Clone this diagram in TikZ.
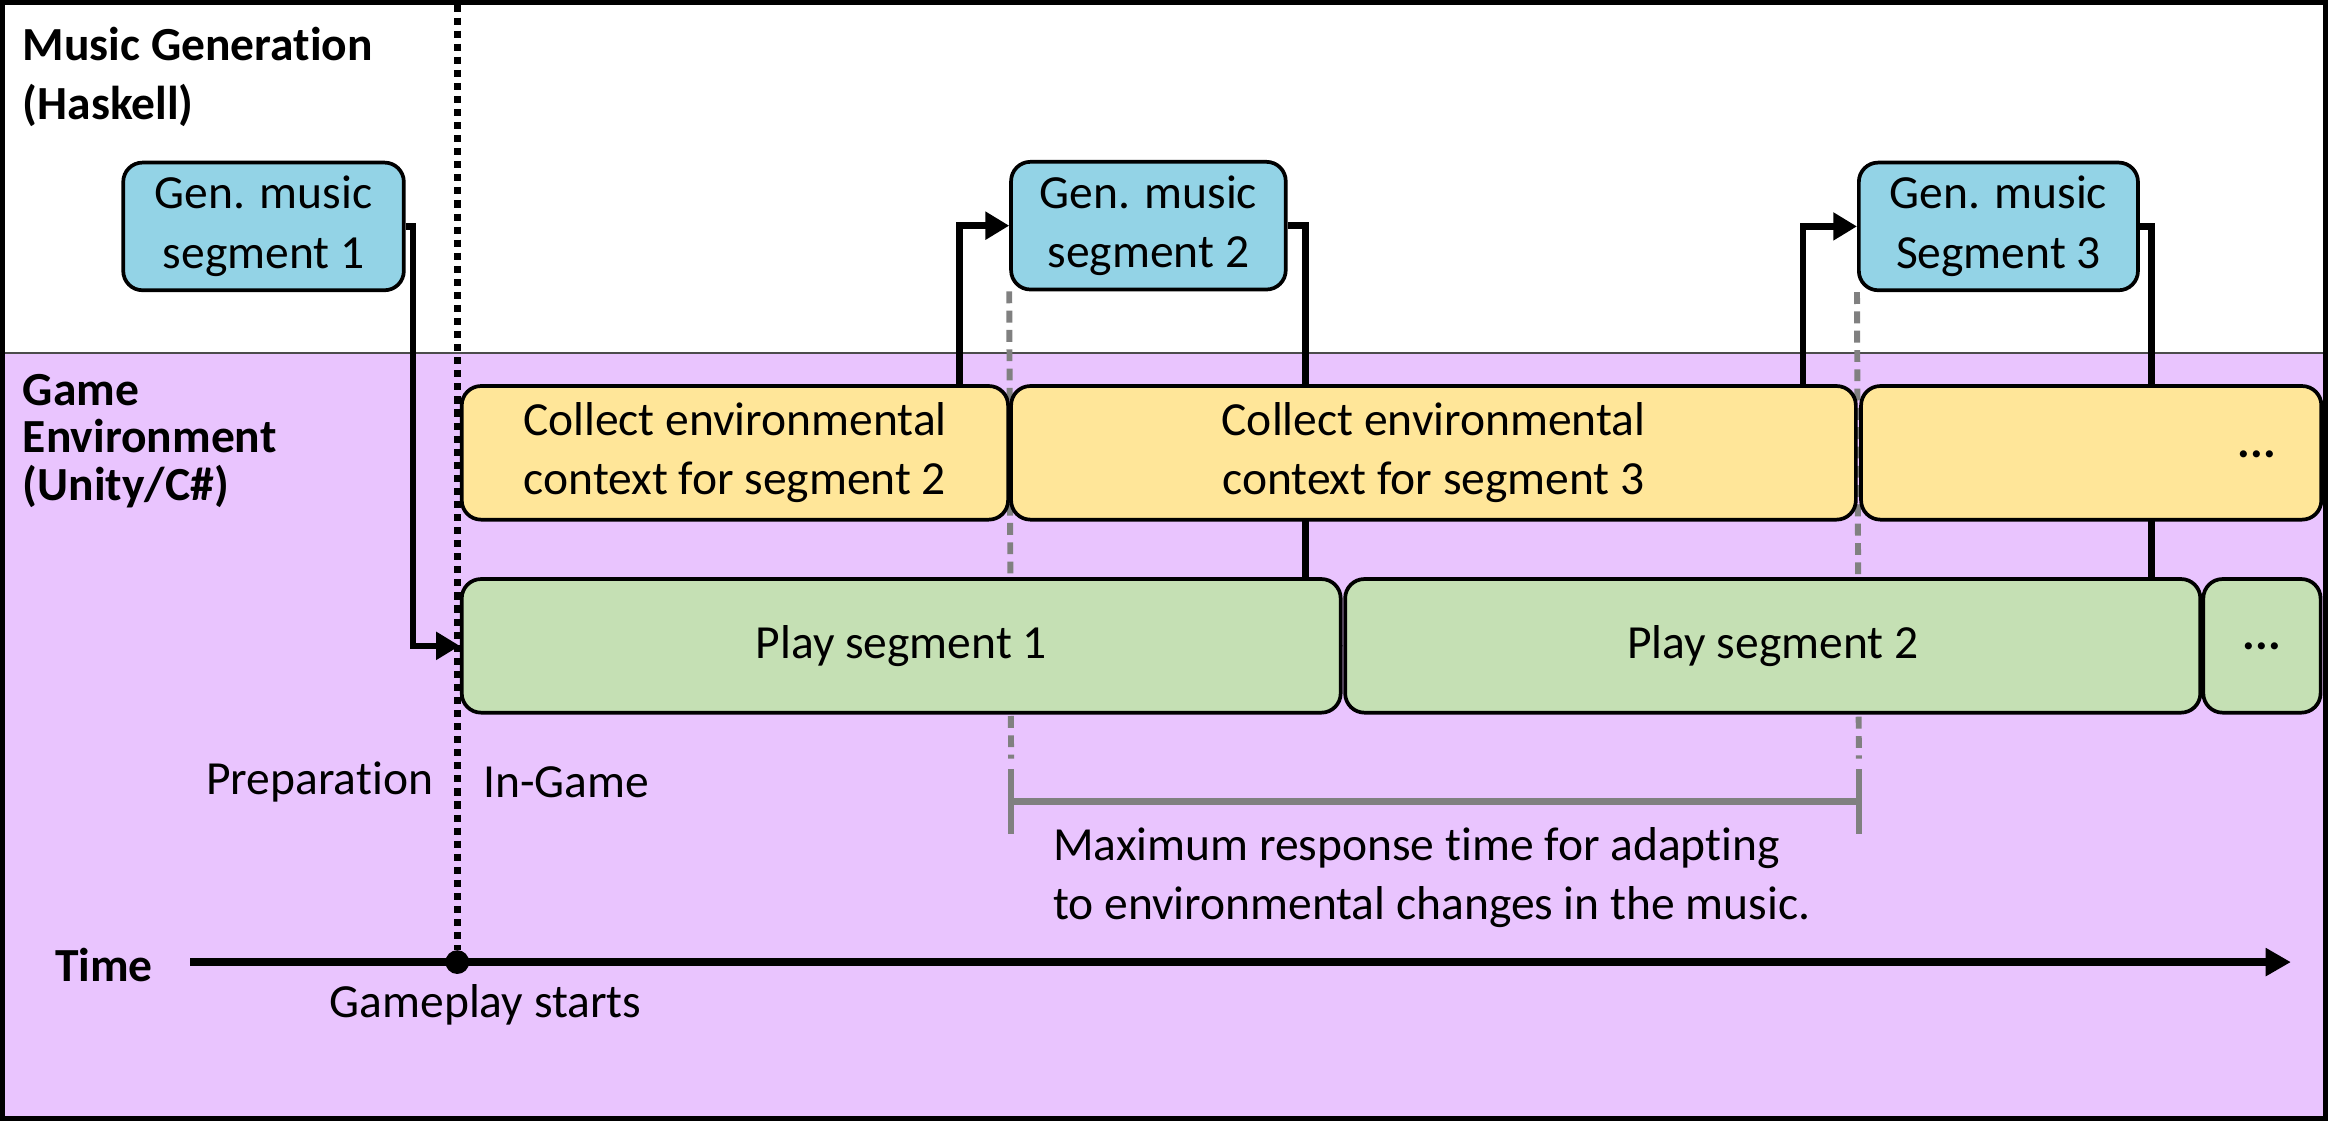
\documentclass[tikz,border=0pt]{standalone}
\usepackage{fontspec}
\setmainfont{Carlito}[Ligatures={NoCommon,NoContextual}]
\usetikzlibrary{arrows.meta}
\pgfdeclarelayer{back}
\pgfdeclarelayer{mid}
\pgfsetlayers{back,mid,main}
\definecolor{genblue}{HTML}{93D3E6}
\definecolor{collyellow}{HTML}{FFE699}
\definecolor{playgreen}{HTML}{C5E0B4}
\definecolor{gamepurple}{HTML}{E9C4FE}
\definecolor{midgray}{RGB}{128,128,128}
\begin{document}
\begin{tikzpicture}[x=0.5pt,y=-0.5pt,
  every node/.style={font=\fontsize{16pt}{20pt}\selectfont, inner sep=0pt},
  box/.style={draw=black, line width=1.25pt, rounded corners=6.5pt, align=center, minimum height=44pt},
  genbox/.style={box, fill=genblue, minimum height=43pt},
  collbox/.style={box, fill=collyellow, minimum height=45pt},
  playbox/.style={box, fill=playgreen, minimum height=45pt},
  conn/.style={line width=2.2pt, line join=miter, -{Triangle[length=8pt,width=9pt]}},
  graydash/.style={draw=midgray, line width=2pt, dash pattern=on 4pt off 2.5pt},
  bracket/.style={draw=midgray, line width=2.2pt},
  blackdots/.style={draw=black, line width=2.4pt, dash pattern=on 2.4pt off 2pt},
  timeline/.style={line width=2.6pt, -{Triangle[length=8.5pt,width=9pt]}},
  heading/.style={font=\bfseries\fontsize{16pt}{20pt}\selectfont, align=left, anchor=west},
  plain/.style={align=left}
]
\useasboundingbox (0,0) rectangle (1568,755);

\begin{pgfonlayer}{back}
  \fill[white] (0,0) rectangle (1568,238);
  \fill[gamepurple] (0,238) rectangle (1568,755);
  \draw[line width=0.7pt, black!70] (0,238) -- (1568,238);
\end{pgfonlayer}

% Section headings
\node[heading] (mghead) at (15,52) {Music Generation\\(Haskell)};
\node[heading, font=\bfseries\fontsize{16pt}{16pt}\selectfont] (gehead) at (15,297) {Game\\Environment\\(Unity/C\#)};

% Music generation boxes
\node[genbox, minimum width=94.5pt] (gen1) at (177.5,152.5) {Gen. music\\segment 1};
\node[genbox, minimum width=92.5pt] (gen2) at (773.5,152) {Gen. music\\segment 2};
\node[genbox, minimum width=94pt] (gen3) at (1346,152.5) {Gen. music\\Segment 3};

% Collect boxes
\node[collbox, minimum width=184pt] (coll2) at (495,305) {Collect environmental\\context for segment 2};
\node[collbox, minimum width=284.5pt] (coll3) at (965.5,305) {Collect environmental\\context for segment 3};
\node[collbox, minimum width=155pt] (coll4) at (1408.5,305) {};
\node[font=\bfseries\fontsize{16pt}{20pt}\selectfont] (coll4dots) at (1520,306) {...};

% Play boxes
\node[playbox, minimum width=296pt] (play1) at (607,435) {Play segment 1};
\node[playbox, minimum width=288pt] (play2) at (1194,435) {Play segment 2};
\node[playbox, minimum width=39.5pt, font=\bfseries\fontsize{16pt}{20pt}\selectfont] (play3) at (1523.5,435) {...};

% Connectors
\begin{pgfonlayer}{mid}
  \draw[conn] (gen1.east) -- ++(5,0) |- (play1.west);
  \draw[conn] ([xshift=-17pt]coll2.north east) |- (gen2.west);
  \draw[conn] (gen2.east) -- ++(12,0) |- (play2.west);
  \draw[conn] ([xshift=-18.5pt]coll3.north east) |- (gen3.west);
  \draw[conn] (gen3.east) -- ++(8,0) |- (play3.west);

  % gray guide lines
  \coordinate (g2end) at (681,511);
  \coordinate (g3end) at (1252,511);
  \draw[graydash] (gen2.south west) -- (g2end);
  \draw[graydash] (gen3.south west) -- (g3end);
\end{pgfonlayer}

% Response time bracket
\coordinate (bl) at (681,540);
\coordinate (br) at (1252,540);
\draw[bracket] ([yshift=11pt]bl) -- ([yshift=-11pt]bl);
\draw[bracket] ([yshift=11pt]br) -- ([yshift=-11pt]br);
\draw[bracket] (bl) -- (br);
\node[plain, anchor=west] (resp) at (709,591) {Maximum response time for adapting\\to environmental changes in the music.};

% Time axis
\coordinate (t0) at (128,648);
\coordinate (t1) at (1543,648);
\coordinate (dtop) at (308,3);
\draw[timeline] (t0) -- (t1);
\node[circle, fill=black, minimum size=8pt] (start) at (308,648) {};
\draw[blackdots] (dtop) -- (start);
\node[heading, anchor=center] (time) at (70,650) {Time};
\node (gps) at (327,677) {Gameplay starts};
\node[anchor=east] (prep) at (292,527) {Preparation};
\node[anchor=west] (ingame) at (325,527) {In-Game};

% Outer frame
\draw[line width=1.8pt] (1.8,1.8) rectangle (1566.2,753.2);
\end{tikzpicture}
\end{document}
